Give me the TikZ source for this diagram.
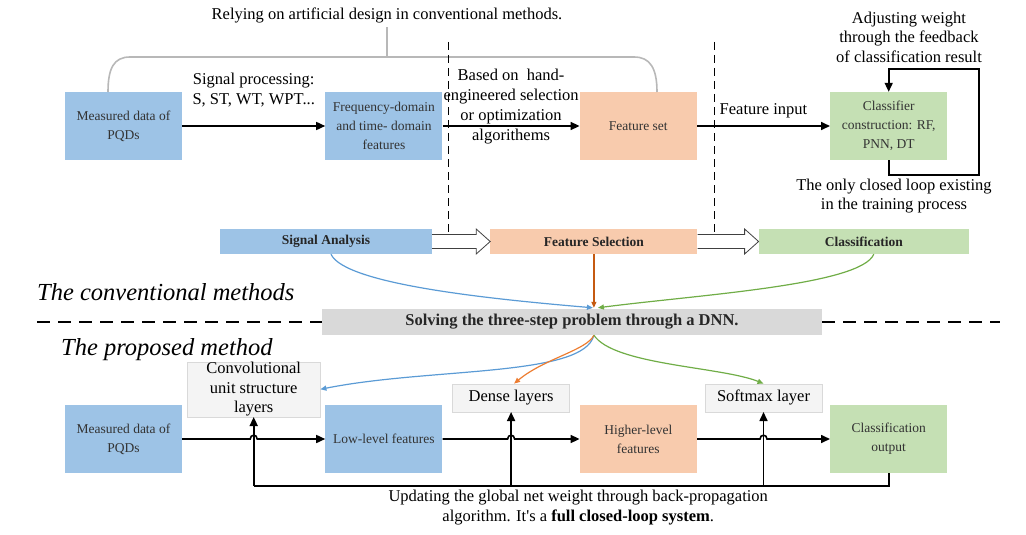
\documentclass[tikz,border=0pt]{standalone}
\usepackage{fontspec}
\setmainfont{Liberation Serif}
\usetikzlibrary{positioning,arrows.meta,calc}
\definecolor{pqblue}{HTML}{9DC3E6}
\definecolor{pqorange}{HTML}{F8CBAD}
\definecolor{pqgreen}{HTML}{C5E0B4}
\definecolor{pqgray}{HTML}{D9D9D9}
\definecolor{pqlight}{HTML}{F4F4F4}
\definecolor{lnblue}{HTML}{5B9BD5}
\definecolor{lnorange}{HTML}{C55A11}
\definecolor{lnorangeb}{HTML}{ED7D31}
\definecolor{lngreen}{HTML}{70AD47}
\newcommand{\pqbig}{\fontsize{16.5}{20}\selectfont}
\newcommand{\pqloop}{\fontsize{16.5}{19.5}\selectfont}
\newcommand{\pqbox}{\fontsize{13.5}{19}\selectfont}
\newcommand{\pqstage}{\fontsize{13.5}{16}\selectfont\bfseries}
\newcommand{\pqdnn}{\fontsize{16.5}{20}\selectfont\bfseries}
\newcommand{\pqtitle}{\fontsize{24.5}{28}\selectfont\itshape}

\begin{document}
\begin{tikzpicture}[
   x=1pt, y=-1pt,
   box/.style   = {fill=#1, minimum height=68pt, minimum width=117pt, inner sep=1pt,
                   align=center, font=\pqbox, text=black!80},
   box/.default = pqblue,
   stage/.style = {fill=#1, minimum height=25pt, inner sep=0pt,
                   font=\pqstage, text=black!85},
   layer/.style = {draw=black!15, fill=pqlight, minimum width=117pt, minimum height=28pt,
                   inner sep=0pt, align=center, font=\pqbig},
   lbl/.style   = {align=center, font=\pqbig},
   blk/.style   = {draw=black!75, fill=white, line width=0.8pt, line join=miter},
   arr/.style   = {-{Triangle[length=9pt,width=8pt]}, line width=1.6pt},
   ln/.style    = {line width=1.6pt},
   cur/.style   = {-{Triangle[length=6pt,width=5pt]}, line width=1.2pt, draw=#1},
   brk/.style   = {draw=black!28, line width=1.6pt},
   vdash/.style = {line width=1pt, dash pattern=on 8pt off 5pt},
   hdash/.style = {line width=2pt, dash pattern=on 13pt off 8pt}
]
\useasboundingbox (0,0) rectangle (1026,535);

\node[box]                            (pqd)  at (123.5,126) {Measured data of\\PQDs};
\node[box, right=143pt of pqd]        (freq) {Frequency-domain\\and time- domain\\features};
\node[box=pqorange, right=137pt of freq] (fset) {Feature set};
\node[box=pqgreen, right=133pt of fset]  (clf)  {Classifier\\construction: RF,\\PNN, DT};

\draw[brk] (108,92) .. controls (108,68) and (114,57) .. (130,57) -- (634,57)
           .. controls (650,57) and (657,68) .. (657,92);
\draw[brk] (387,57) -- (387,27) node[lbl, above] (rely) {Relying on artificial design in conventional methods.};

\draw[vdash] (448,42) -- (448,236);
\draw[vdash] (714,42) -- (714,236);

\draw[arr] (pqd)  -- node[lbl, above=15pt] {Signal processing:\\S, ST, WT, WPT...} (freq);
\draw[arr] (freq) -- node[lbl, yshift=19pt] {Based on~ hand-\\engineered selection\\or optimization\\algorithems} (fset);
\draw[arr] (fset) -- node[lbl, above=4pt] {Feature input} (clf);

\coordinate (lpb) at ($(clf.south)+(0,15)$);
\draw[arr] (clf.south) -- (lpb) -| ++(90,-106) -| (clf.north);
\node[lbl, font=\pqloop] (adj)  at (909,37)  {Adjusting weight\\through the feedback\\of classification result};
\node[lbl, font=\pqloop] (only) at (894,196) {The only closed loop existing\\in the training process};

\node[stage=pqblue, minimum width=212pt]                 (sa) at (326,241.5) {Signal Analysis};
\node[stage=pqorange, minimum width=207pt, right=58pt of sa] (fs) {Feature Selection};
\node[stage=pqgreen, minimum width=210pt, right=61pt of fs]  (cl) {Classification};
\draw[blk] ($(sa.east)+(0,-7)$) -- ($(fs.west)+(-14,-7)$) -- ($(fs.west)+(-14,-12.5)$) -- (fs.west)
           -- ($(fs.west)+(-14,12.5)$) -- ($(fs.west)+(-14,7)$) -- ($(sa.east)+(0,7)$);
\draw[blk] ($(fs.east)+(0,-7)$) -- ($(cl.west)+(-14,-7)$) -- ($(cl.west)+(-14,-12.5)$) -- (cl.west)
           -- ($(cl.west)+(-14,12.5)$) -- ($(cl.west)+(-14,7)$) -- ($(fs.east)+(0,7)$);

\node[anchor=base west, font=\pqtitle, inner sep=0pt] (conv-title) at (37,300) {The conventional methods};
\node[stage=pqgray, minimum width=500pt, minimum height=26pt, font=\pqdnn] (dnn) at (572,322)
     {Solving the three-step problem through a DNN.};
\draw[hdash] (37,322) -- (dnn.west);
\draw[hdash] (dnn.east) -- (1000,322);
\node[anchor=base west, font=\pqtitle, inner sep=0pt] (prop-title) at (61,355) {The proposed method};

\coordinate (dtop) at (fs.south |- dnn.north);
\coordinate (dbot) at (fs.south |- dnn.south);
\draw[cur=lnblue]   ($(sa.south)+(5,0)$) .. controls +(14,31) and +(-93,-8) .. ($(dtop)+(-1,-1)$);
\draw[cur=lnorange] (fs.south) -- ($(dtop)+(0,-1)$);
\draw[cur=lngreen]  ($(cl.south)+(10,0)$) .. controls +(-13,31) and +(100,-13) .. ($(dtop)+(4,-1)$);

\node[box]                            (pqdB) at (123.5,439) {Measured data of\\PQDs};
\node[box, right=143pt of pqdB]       (low)  {Low-level features};
\node[box=pqorange, right=137pt of low]  (high) {Higher-level\\features};
\node[box=pqgreen, right=133pt of high]  (out)  {Classification\\output};
\coordinate (m1) at ($(pqdB.east)!0.5!(low.west)$);
\coordinate (m2) at ($(low.east)!0.5!(high.west)$);
\coordinate (m3) at ($(high.east)!0.5!(out.west)$);

\node[layer, minimum width=133pt, minimum height=55pt, font=\fontsize{16.5}{19.5}\selectfont,
      above=22pt of m1] (conv) {Convolutional\\unit structure\\layers};
\node[layer, above=27pt of m2] (dense) {Dense layers};
\node[layer, above=27pt of m3] (smx)   {Softmax layer};

\draw[cur=lnblue]    (dbot) .. controls +(-10,42) and +(110,-22) .. (conv.east);
\draw[cur=lnorangeb] (dbot) .. controls +(-7,15) and +(30,-25) .. ($(dense.north)+(3,0)$);
\draw[cur=lngreen]   (dbot) .. controls +(20,30) and +(-42,-17) .. (smx.north);

\draw[arr] (pqdB.east) -- ($(m1)+(-3.5,0)$) .. controls +(0,-5) and +(0,-5) .. ($(m1)+(3.5,0)$) -- (low.west);
\draw[arr] (low.east)  -- ($(m2)+(-3.5,0)$) .. controls +(0,-5) and +(0,-5) .. ($(m2)+(3.5,0)$) -- (high.west);
\draw[arr] (high.east) -- ($(m3)+(-3.5,0)$) .. controls +(0,-5) and +(0,-5) .. ($(m3)+(3.5,0)$) -- (out.west);

\coordinate (fb) at ($(m1)+(0,47)$);
\draw[ln] (out.south) |- (fb);
\draw[arr] (fb) -- (conv.south);
\draw[arr] (m2 |- fb) -- (dense.south);
\draw[arr] (m3 |- fb) -- (smx.south);
\node[lbl, below=1pt, xshift=7pt] (upd) at ($(fb)!0.5!(out.south |- fb)$)
     {Updating the global net weight through back-propagation\\algorithm. It\textquotesingle s a \textbf{full closed-loop system}.};
\end{tikzpicture}
\end{document}
